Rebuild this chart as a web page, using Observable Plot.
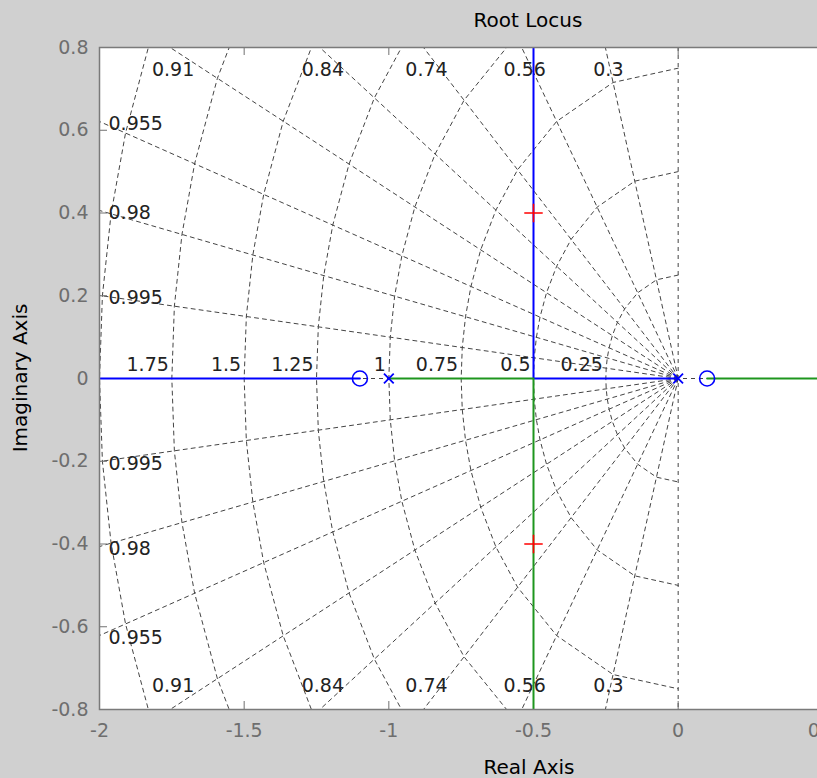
<!DOCTYPE html>
<html>
<head>
<meta charset="utf-8">
<script src="https://cdn.jsdelivr.net/npm/d3@7"></script>
<script src="https://cdn.jsdelivr.net/npm/@observablehq/plot@0.6"></script>
<style>
html, body { margin: 0; padding: 0; overflow: hidden; background: #d0d0d0; }
#wrap { position: relative; width: 817px; height: 778px; overflow: hidden; background: #d0d0d0; }
#wrap svg { position: absolute; left: 0; top: 0; max-width: none !important; width: 980px !important; height: 778px !important; }
</style>
</head>
<body>
<div id="wrap"></div>
<script>
// ---- text ----
const titleText = "Root Locus";
const xLabelText = "Real Axis";
const yLabelText = "Imaginary Axis";

// ---- axes ----
const xDomain = [-2, 1];
const yDomain = [-0.8, 0.8];
const xTicks = [-2, -1.5, -1, -0.5, 0, 0.5, 1];
const yTicks = [-0.8, -0.6, -0.4, -0.2, 0, 0.2, 0.4, 0.6, 0.8];

// ---- s-plane grid (sgrid) ----
const zetaGrid = [0.3, 0.56, 0.74, 0.84, 0.91, 0.955, 0.98, 0.995];
const zetaLabels = ["0.3", "0.56", "0.74", "0.84", "0.91", "0.955", "0.98", "0.995"];
const wnGrid = [0.25, 0.5, 0.75, 1, 1.25, 1.5, 1.75, 2];
const wnLabels = ["0.25", "0.5", "0.75", "1", "1.25", "1.5", "1.75", ""];

// ---- root locus branches (real, imag) ----
const branchBlueLeftRe = [-2, -1.1];
const branchBlueLeftIm = [0, 0];
const branchBlueUpperRe = [0, -0.5, -0.5];
const branchBlueUpperIm = [0, 0, 0.8];
const branchGreenLowerRe = [-1, -0.5, -0.5];
const branchGreenLowerIm = [0, 0, -0.8];
const branchGreenRightRe = [0.1, 1];
const branchGreenRightIm = [0, 0];

// ---- open-loop poles / zeros, selected closed-loop poles ----
const polesRe = [-1, 0];
const polesIm = [0, 0];
const zerosRe = [-1.1, 0.1];
const zerosIm = [0, 0];
const selectedRe = [-0.5, -0.5];
const selectedIm = [0.4, -0.4];

// ---- colors ----
const blue = "#0000ff";
const green = "#1e961e";
const gridColor = "#444444";
const dash = "4,4";

// build tables
const pts = (re, im, id) => re.map((r, i) => ({x: r, y: im[i], id}));
const blueBranches = [...pts(branchBlueLeftRe, branchBlueLeftIm, "b1"), ...pts(branchBlueUpperRe, branchBlueUpperIm, "b2")];
const greenBranches = [...pts(branchGreenLowerRe, branchGreenLowerIm, "g1"), ...pts(branchGreenRightRe, branchGreenRightIm, "g2")];
const poles = pts(polesRe, polesIm, "p");
const zeros = pts(zerosRe, zerosIm, "z");
const selected = pts(selectedRe, selectedIm, "s");

const zetaLines = [];
zetaGrid.forEach(z => {
  const s = Math.sqrt(1 - z * z);
  [1, -1].forEach(sg => {
    const id = `z${z}_${sg}`;
    zetaLines.push({x: 0, y: 0, id}, {x: -3 * z, y: sg * 3 * s, id});
  });
});
const vertZ = [0, ...zetaGrid, 1];
const wnCircles = [];
wnGrid.forEach(r => {
  const id = `w${r}`;
  vertZ.forEach(z => wnCircles.push({x: -r * z, y: r * Math.sqrt(1 - z * z), id}));
  vertZ.slice(0, -1).reverse().forEach(z => wnCircles.push({x: -r * z, y: -r * Math.sqrt(1 - z * z), id}));
});

// zeta labels: where each line leaves the frame
const topLabels = [], leftLabels = [];
zetaGrid.forEach((z, i) => {
  const s = Math.sqrt(1 - z * z);
  const yAtLeft = -xDomain[0] * s / z;
  if (yAtLeft > yDomain[1]) {
    topLabels.push({x: -yDomain[1] * z / s, text: zetaLabels[i]});
  } else {
    leftLabels.push({y: yAtLeft, text: zetaLabels[i]});
    leftLabels.push({y: -yAtLeft, text: zetaLabels[i]});
  }
});
const wnLabelRows = wnGrid.map((r, i) => ({x: -r, y: 0, text: wnLabels[i]})).filter(d => d.text);

const W = 980, H = 778;
const mL = 99, mR = W - 967, mT = 47, mB = H - 709;
const fw = W - mL - mR, fh = H - mT - mB;
const tickLen = 8;

const chart = Plot.plot({
  width: W,
  height: H,
  marginLeft: mL,
  marginRight: mR,
  marginTop: mT,
  marginBottom: mB,
  style: {background: "transparent", fontFamily: "DejaVu Sans, sans-serif", fontSize: "19px", color: "#6e6e6e", overflow: "visible", maxWidth: "none"},
  x: {domain: xDomain, label: null},
  y: {domain: yDomain, label: null},
  marks: [
    Plot.frame({fill: "white", stroke: "none"}),
    // grid
    Plot.line(wnCircles, {x: "x", y: "y", z: "id", stroke: gridColor, strokeWidth: 1, strokeDasharray: dash, clip: true}),
    Plot.line(zetaLines, {x: "x", y: "y", z: "id", stroke: gridColor, strokeWidth: 1, strokeDasharray: dash, clip: true}),
    Plot.ruleX([0], {stroke: gridColor, strokeDasharray: dash}),
    Plot.ruleY([0], {stroke: gridColor, strokeDasharray: dash}),
    Plot.text(topLabels, {x: "x", text: "text", frameAnchor: "top", lineAnchor: "middle", dy: 22, dx: 3, fill: "#222", fontSize: 19}),
    Plot.text(topLabels, {x: "x", text: "text", frameAnchor: "bottom", lineAnchor: "middle", dy: -24, dx: 3, fill: "#222", fontSize: 19}),
    Plot.text(leftLabels, {y: "y", text: "text", frameAnchor: "left", lineAnchor: "middle", dx: 9, dy: 2, textAnchor: "start", fill: "#222", fontSize: 19}),
    Plot.text(wnLabelRows, {x: "x", y: "y", text: "text", textAnchor: "end", dx: -3, dy: -14, fill: "#222", fontSize: 19}),
    // inner ticks
    Plot.tickX(xTicks, {x: d => d, insetTop: fh - tickLen, stroke: "#707070"}),
    Plot.tickX(xTicks, {x: d => d, insetBottom: fh - tickLen, stroke: "#707070"}),
    Plot.tickY(yTicks, {y: d => d, insetRight: fw - tickLen, stroke: "#707070"}),
    // locus
    Plot.line(blueBranches, {x: "x", y: "y", z: "id", stroke: blue, strokeWidth: 2, clip: true}),
    Plot.line(greenBranches, {x: "x", y: "y", z: "id", stroke: green, strokeWidth: 2, clip: true}),
    Plot.dot(zeros, {x: "x", y: "y", r: 7.5, stroke: blue, strokeWidth: 1.6, fill: "none"}),
    Plot.dot(poles, {x: "x", y: "y", symbol: "times", r: 4.5, stroke: blue, strokeWidth: 1.8}),
    Plot.dot(selected, {x: "x", y: "y", symbol: "plus", r: 6, stroke: "red", strokeWidth: 1.6}),
    Plot.frame({stroke: "#7a7a7a", strokeWidth: 1.5}),
    // axes
    Plot.axisX(xTicks, {anchor: "bottom", tickSize: 0, tickPadding: 14, tickFormat: d => String(d), fontSize: 19}),
    Plot.axisY(yTicks, {anchor: "left", tickSize: 0, tickPadding: 11, tickFormat: d => String(d), fontSize: 19})
  ]
});

const svg = d3.select(chart);
svg.append("text").attr("x", 528).attr("y", 27).attr("text-anchor", "middle")
  .attr("fill", "#000").attr("font-size", 20).attr("font-family", "DejaVu Sans, sans-serif").text(titleText);
svg.append("text").attr("x", 529).attr("y", 774).attr("text-anchor", "middle")
  .attr("fill", "#000").attr("font-size", 20).attr("font-family", "DejaVu Sans, sans-serif").text(xLabelText);
svg.append("text").attr("transform", "translate(27,378) rotate(-90)").attr("text-anchor", "middle")
  .attr("fill", "#000").attr("font-size", 20).attr("font-family", "DejaVu Sans, sans-serif").text(yLabelText);

document.getElementById("wrap").appendChild(chart);
</script>
</body>
</html>
